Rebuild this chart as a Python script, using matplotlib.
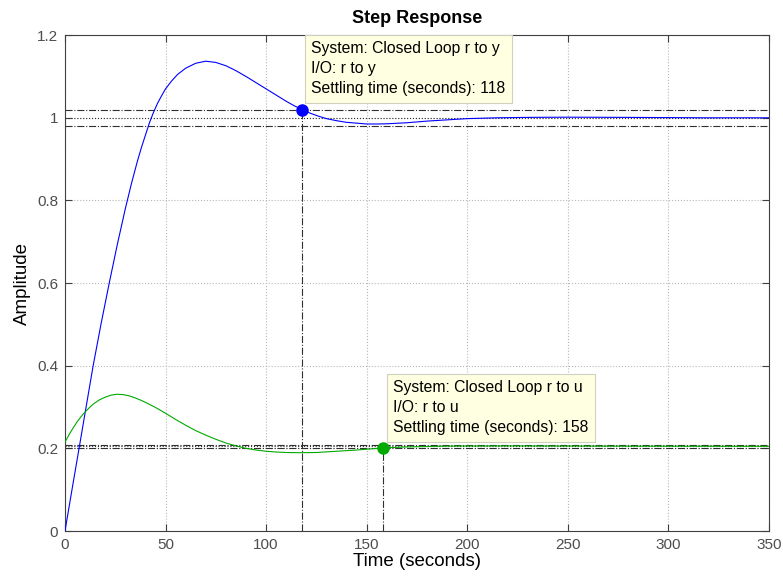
import matplotlib
matplotlib.use("Agg")
import matplotlib.pyplot as plt

plt.rcParams['font.family'] = ['Liberation Sans', 'DejaVu Sans']

# closed loop r -> y
t_y = [0, 4, 7, 10, 14, 18, 22, 26, 30, 33, 36, 38, 40, 42, 44, 46, 48, 50,
       53, 56, 60, 65, 70, 75, 80, 85, 90, 95, 100, 105, 110, 114, 118, 122,
       126, 130, 135, 140, 145, 150, 155, 160, 170, 180, 190, 200, 215, 230,
       250, 280, 320, 350]
y_y = [0, 0.115, 0.2, 0.286, 0.4, 0.503, 0.6, 0.693, 0.78, 0.84, 0.895, 0.928,
       0.958, 0.988, 1.013, 1.035, 1.053, 1.07, 1.089, 1.105, 1.12, 1.132,
       1.137, 1.134, 1.126, 1.114, 1.1, 1.085, 1.07, 1.055, 1.04, 1.029, 1.02,
       1.011, 1.004, 0.998, 0.993, 0.989, 0.987, 0.985, 0.985, 0.9855, 0.988,
       0.992, 0.995, 0.998, 1.0, 1.001, 1.0015, 1.001, 1.0, 1.0]

# closed loop r -> u
t_u = [0, 2, 4, 6, 8, 10, 12, 14, 17, 20, 23, 26, 29, 32, 35, 38, 41, 45, 50,
       55, 60, 65, 70, 75, 80, 85, 90, 95, 100, 105, 110, 117, 125, 135, 145,
       158, 170, 190, 220, 260, 350]
y_u = [0.215, 0.233, 0.249, 0.264, 0.277, 0.288, 0.298, 0.307, 0.317, 0.324,
       0.329, 0.331, 0.33, 0.327, 0.322, 0.316, 0.309, 0.299, 0.285, 0.27,
       0.256, 0.243, 0.232, 0.222, 0.213, 0.206, 0.2, 0.196, 0.193, 0.1912,
       0.19, 0.1895, 0.19, 0.193, 0.196, 0.201, 0.2035, 0.2055, 0.206, 0.2055,
       0.205]

final_y = 1.0
final_u = 0.205
ts_y = 118
ts_u = 158
ts_y_val = 1.02
ts_u_val = 0.201

fig = plt.figure(figsize=(7.83, 5.82), dpi=100)
ax = fig.add_axes([0.083, 0.0876, 0.899, 0.852])

gray = '#404040'
band = '#303030'

# settling bands and steady state lines
for fv in (final_y, final_u):
    ax.axhline(fv * 1.02, color=band, lw=0.8, ls='-.', zorder=1)
    ax.axhline(fv * 0.98, color=band, lw=0.8, ls='-.', zorder=1)
    ax.axhline(fv, color=band, lw=0.8, ls=':', zorder=1)
ax.plot([ts_y, ts_y], [0, ts_y_val], color=band, lw=0.8, ls='-.', zorder=1)
ax.plot([ts_u, ts_u], [0, ts_u_val], color=band, lw=0.8, ls='-.', zorder=1)

ax.plot(t_y, y_y, color='#0000ff', lw=0.8, zorder=3)
ax.plot(t_u, y_u, color='#00aa00', lw=0.8, zorder=3)
ax.plot(ts_y, ts_y_val, 'o', color='#0000ff', ms=8, zorder=4)
ax.plot(ts_u, ts_u_val, 'o', color='#00aa00', ms=8, zorder=4)

box = dict(boxstyle='square,pad=0.4', fc='#ffffe1', ec='#d0d0c0', lw=0.8)
ax.text(122.5, 1.185, "System: Closed Loop r to y\nI/O: r to y\nSettling time (seconds): 118",
        fontsize=11.3, va='top', ha='left', linespacing=1.42, bbox=box, zorder=5)
ax.text(163.3, 0.365, "System: Closed Loop r to u\nI/O: r to u\nSettling time (seconds): 158",
        fontsize=11.3, va='top', ha='left', linespacing=1.42, bbox=box, zorder=5)

ax.set_xlim(0, 350)
ax.set_ylim(0, 1.2)
ax.set_xticks([0, 50, 100, 150, 200, 250, 300, 350])
ax.set_yticks([0, 0.2, 0.4, 0.6, 0.8, 1, 1.2])
ax.set_yticklabels(['0', '0.2', '0.4', '0.6', '0.8', '1', '1.2'])
ax.grid(True, color='#b8b8b8', ls=':', lw=0.8)
ax.set_axisbelow(True)
ax.tick_params(direction='in', top=True, right=True, length=5, width=0.8,
               colors=gray, labelsize=11, labelcolor='#4d4d4d', pad=5)
for s in ax.spines.values():
    s.set_color(gray)
    s.set_linewidth(0.8)

ax.set_title("Step Response", fontsize=13, fontweight='bold', pad=9)
ax.set_xlabel("Time (seconds)", fontsize=13.5, labelpad=1)
ax.set_ylabel("Amplitude", fontsize=13.5, labelpad=4)

fig.savefig("out.png", dpi=100)
